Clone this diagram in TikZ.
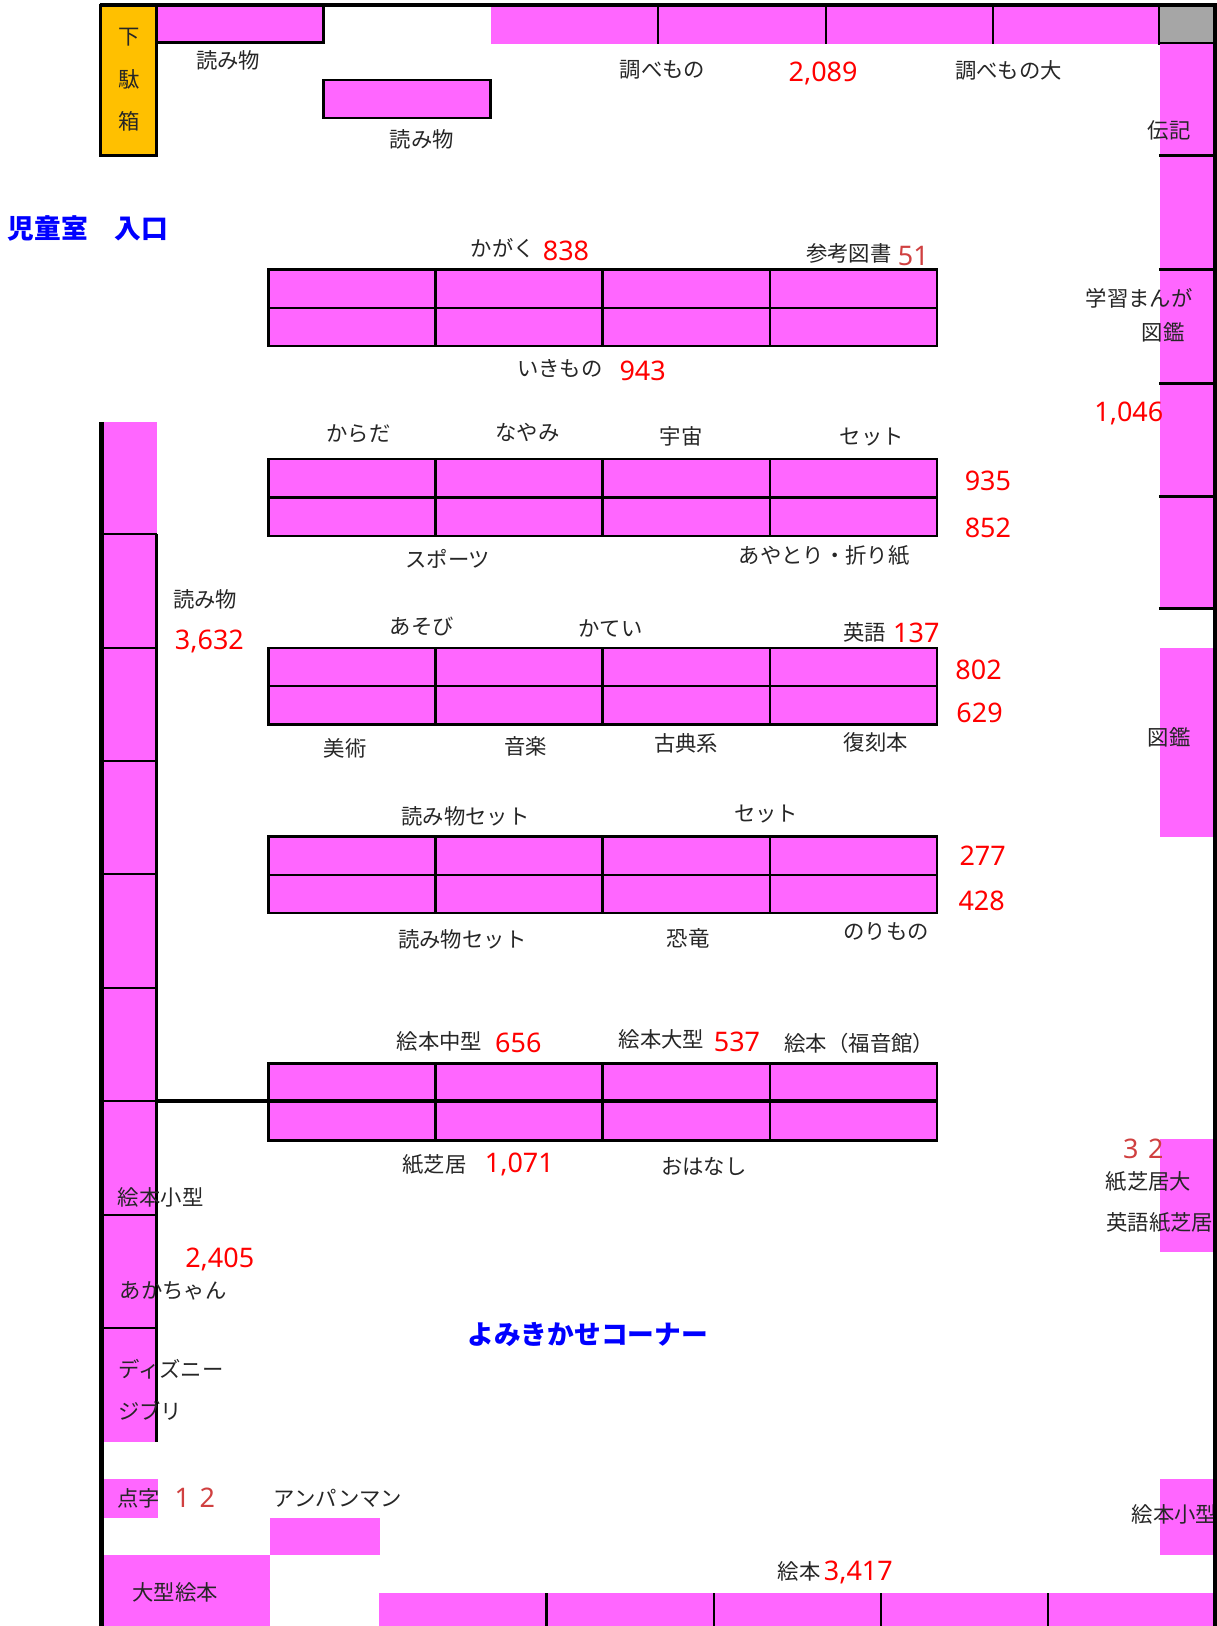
\documentclass[tikz,border=0pt]{standalone}
\usepackage{fontspec}
\setmainfont{Noto Sans CJK JP}
\newfontfamily\numfont{Noto Sans}
\definecolor{shelf}{HTML}{FF66FF}
\definecolor{shoe}{HTML}{FFC000}
\definecolor{corner}{HTML}{A6A6A6}
\definecolor{mutedred}{HTML}{D04040}
\tikzset{
  lab/.style={inner sep=0pt,text=black!85,font=\fontsize{10.3}{12}\selectfont},
  num/.style={inner sep=0pt,text=red,font=\numfont\fontsize{13}{15}\selectfont},
  mut/.style={inner sep=0pt,text=mutedred,font=\numfont\fontsize{13}{15}\selectfont},
  title/.style={inner sep=0pt,text=blue,font=\bfseries\fontsize{12.9}{15}\selectfont},
  ln/.style={draw=black,line width=1.2pt},
  wall/.style={draw=black,line width=2.2pt},
}
\newcommand{\shelfblock}[1]{%
  \fill[shelf] (259,#1) rectangle (904,#1+74);
  \draw[ln] (259,#1) rectangle (904,#1+74);
  \draw[ln] (259,#1+37) -- (904,#1+37);
  \draw[ln] (420,#1) -- (420,#1+74);
  \draw[ln] (581,#1) -- (581,#1+74);
  \draw[ln] (743,#1) -- (743,#1+74);
}
\begin{document}
\begin{tikzpicture}[x=0.5pt,y=-0.5pt]
\useasboundingbox (0,0) rectangle (1174,1568.6);
\fill[white] (0,0) rectangle (1174,1568.6);
% shoe box and top shelves
\fill[shoe] (97,5) rectangle (151,150);
\draw[ln] (97,5) rectangle (151,150);
\fill[shelf] (152,7) rectangle (312,41);
\draw[ln] (151,41) -- (312,41) -- (312,7);
\fill[shelf] (312,77) rectangle (473,114);
\draw[ln] (312,77) rectangle (473,114);
\fill[shelf] (474,7) rectangle (1118,42);
\draw[ln] (635,7) -- (635,42);
\draw[ln] (797,7) -- (797,42);
\draw[ln] (958,7) -- (958,42);
\fill[corner] (1118,7) rectangle (1170,42);
\draw[ln] (1170,42) -- (1118,42) -- (1118,7);
% right column
\fill[shelf] (1119,42) rectangle (1170,587);
\foreach \yy in {150,260,370,479,587} \draw[ln] (1118,\yy) -- (1171,\yy);
\fill[shelf] (1119,625) rectangle (1170,807);
\fill[shelf] (1119,1099) rectangle (1170,1208);
\fill[shelf] (1119,1427) rectangle (1170,1500);
% bottom shelf
\fill[shelf] (366,1537) rectangle (1170,1569);
\foreach \xx in {527,689,850,1011} \draw[ln] (\xx,1537) -- (\xx,1569);
% left column
\fill[shelf] (100,407) rectangle (151,1391);
\foreach \yy in {515,625,734,843,953,1062,1172,1281} \draw[ln] (100,\yy) -- (151,\yy);
\draw[ln] (151,515) -- (151,1391);
\fill[shelf] (100,1427) rectangle (152,1464);
\fill[shelf] (260,1464) rectangle (367,1500);
\fill[shelf] (100,1500) rectangle (260,1569);
% centre blocks
\shelfblock{260}
\shelfblock{443}
\shelfblock{625}
\shelfblock{807}
\shelfblock{1026}
\draw[draw=black,line width=1.7pt] (151,1062) -- (904,1062);
% text
\node[lab] (a1) at (125,36) {下};
\node[lab] (a2) at (125,77) {駄};
\node[lab] (a3) at (125,117) {箱};
\node[lab] (b1) at (220,58) {読み物};
\node[lab] (b2) at (407,134) {読み物};
\node[lab] (b3) at (639,67) {調べもの};
\node[num] (b4) at (794,71) {2,089};
\node[lab] (b5) at (973,68) {調べもの大};
\node[lab] (b6) at (1128,126) {伝記};
\node[title] (t1) at (85,220) {児童室　入口};
\node[lab] (c1) at (485,239) {かがく};
\node[num] (c2) at (546,242) {838};
\node[lab] (c3) at (819,244) {参考図書};
\node[mut] (c4) at (881,247) {51};
\node[lab] (c5) at (540,355) {いきもの};
\node[num] (c6) at (620,358) {943};
\node[lab] (d1) at (1099,288) {学習まんが};
\node[lab] (d2) at (1122,321) {図鑑};
\node[num] (d3) at (1089,399) {1,046};
\node[lab] (e1) at (346,418) {からだ};
\node[lab] (e2) at (509,417) {なやみ};
\node[lab] (e3) at (657,421) {宇宙};
\node[lab] (e4) at (841,422) {セット};
\node[num] (e5) at (953,464) {935};
\node[num] (e6) at (953,509) {852};
\node[lab] (e7) at (432,539) {スポーツ};
\node[lab] (e8) at (795,536) {あやとり・折り紙};
\node[lab] (f1) at (198,578) {読み物};
\node[num] (f2) at (202,619) {3,632};
\node[lab] (g1) at (407,604) {あそび};
\node[lab] (g2) at (589,606) {かてい};
\node[lab] (g3) at (834,610) {英語};
\node[num] (g4) at (884,611) {137};
\node[num] (g5) at (944,646) {802};
\node[num] (g6) at (945,688) {629};
\node[lab] (g7) at (333,722) {美術};
\node[lab] (g8) at (507,720) {音楽};
\node[lab] (g9) at (662,717) {古典系};
\node[lab] (g10) at (845,716) {復刻本};
\node[lab] (g11) at (1128,711) {図鑑};
\node[lab] (h1) at (449,788) {読み物セット};
\node[lab] (h2) at (739,785) {セット};
\node[num] (h3) at (948,826) {277};
\node[num] (h4) at (947,869) {428};
\node[lab] (h5) at (446,906) {読み物セット};
\node[lab] (h6) at (664,905) {恐竜};
\node[lab] (h7) at (855,899) {のりもの};
\node[lab] (i1) at (424,1005) {絵本中型};
\node[num] (i2) at (500,1006) {656};
\node[lab] (i3) at (638,1003) {絵本大型};
\node[num] (i4) at (711,1005) {537};
\node[lab] (i5) at (829,1007) {絵本（福音館）};
\node[lab] (i6) at (419,1123) {紙芝居};
\node[num] (i7) at (501,1123) {1,071};
\node[lab] (i8) at (679,1125) {おはなし};
\node[mut] (j1) at (1103,1108) {3\hspace{0.35em}2};
\node[lab] (j2) at (1108,1140) {紙芝居大};
\node[lab] (j3) at (1119,1179) {英語紙芝居};
\node[lab] (k1) at (155,1155) {絵本小型};
\node[num] (k2) at (212,1215) {2,405};
\node[lab] (k3) at (167,1245) {あかちゃん};
\node[lab] (k4) at (165,1321) {ディズニー};
\node[lab] (k5) at (145,1361) {ジブリ};
\node[title] (t2) at (567,1287) {よみきかせコーナー};
\node[lab] (m1) at (134,1445) {点字};
\node[mut] (m2) at (188,1445) {1\hspace{0.35em}2};
\node[lab] (m3) at (326,1445) {アンパンマン};
\node[lab] (m4) at (169,1536) {大型絵本};
\node[lab] (m5) at (771,1516) {絵本};
\node[num] (m6) at (828,1517) {3,417};
\node[lab] (m7) at (1133,1461) {絵本小型};
% walls
\draw[wall] (96,5) -- (1174,5);
\draw[wall] (98,407) -- (98,1569);
\fill[black] (1170.5,3) rectangle (1174,1569);
\end{tikzpicture}
\end{document}
